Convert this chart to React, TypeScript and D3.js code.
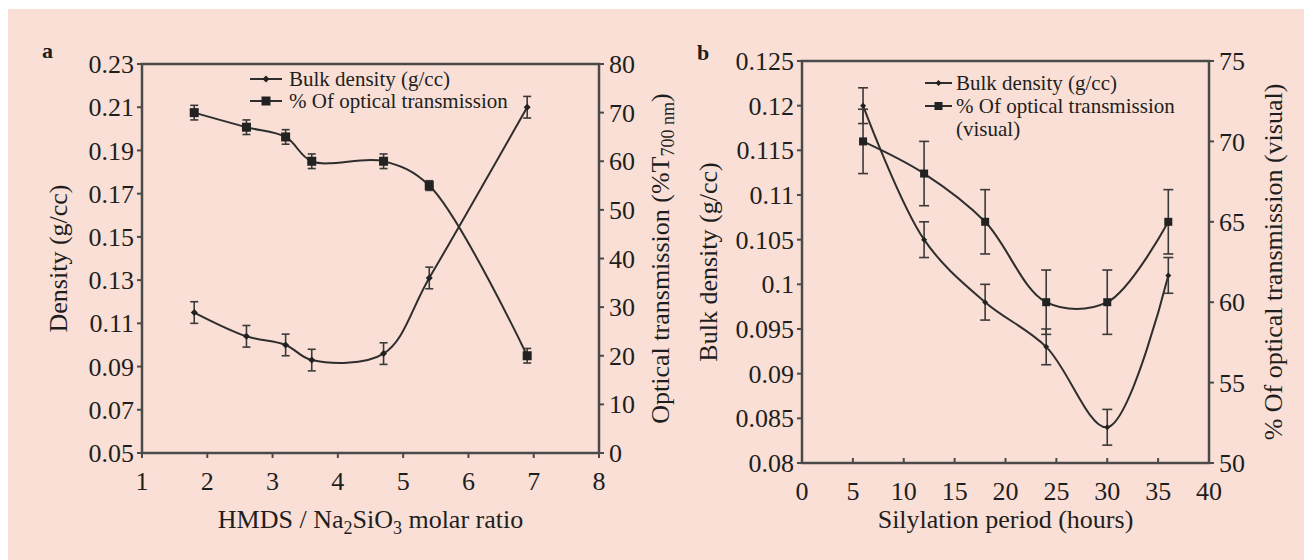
import { scaleLinear, line, curveCatmullRom } from "d3"

// Panel a: HMDS / Na2SiO3 molar ratio
const ratioA = [1.8, 2.6, 3.2, 3.6, 4.7, 5.4, 6.9]
const densityA = [0.115, 0.104, 0.1, 0.093, 0.096, 0.131, 0.21]
const densityErrA = [0.005, 0.005, 0.005, 0.005, 0.005, 0.005, 0.005]
const transA = [70, 67, 65, 60, 60, 55, 20]
const transErrA = [1.5, 1.5, 1.5, 1.5, 1.5, 1, 1.5]

// Panel b: silylation period
const periodB = [6, 12, 18, 24, 30, 36]
const densityB = [0.12, 0.105, 0.098, 0.093, 0.084, 0.101]
const densityErrB = [0.002, 0.002, 0.002, 0.002, 0.002, 0.002]
const transB = [70, 68, 65, 60, 60, 65]
const transErrB = [2, 2, 2, 2, 2, 2]

// tick labels
const xTicksA = [1, 2, 3, 4, 5, 6, 7, 8]
const leftTicksA = ["0.05", "0.07", "0.09", "0.11", "0.13", "0.15", "0.17", "0.19", "0.21", "0.23"]
const rightTicksA = [0, 10, 20, 30, 40, 50, 60, 70, 80]
const xTicksB = [0, 5, 10, 15, 20, 25, 30, 35, 40]
const leftTicksB = ["0.08", "0.085", "0.09", "0.095", "0.1", "0.105", "0.11", "0.115", "0.12", "0.125"]
const rightTicksB = [50, 55, 60, 65, 70, 75]

const FONT = "'Liberation Serif', 'Times New Roman', serif"
const INK = "#1e1e1e"
const AXIS = "#4a4a4a"
const LINE = "#2e2e2e"
const TICK_FS = 26

function Marker({ x, y, kind, size }) {
    if (kind === "square")
        return <rect x={x - size / 2} y={y - size / 2} width={size} height={size} fill="#222" />
    return <path d={`M${x},${y - size / 2}L${x + size / 2},${y}L${x},${y + size / 2}L${x - size / 2},${y}Z`} fill="#222" />
}

function Panel({ box, xDomain, yLDomain, yRDomain, xTicks, leftTicks, rightTicks, xs, series, bottomTicksIn, cap, titles, legend }) {
    const x = scaleLinear(xDomain, [box.left, box.right])
    const yL = scaleLinear(yLDomain, [box.bottom, box.top])
    const yR = scaleLinear(yRDomain, [box.bottom, box.top])

    return <g>
        {/* curves, error bars, markers */}
        {series.map((s, si) => {
            const y = s.axis === "left" ? yL : yR
            const path = line()
                .x((_, i) => x(xs[i]))
                .y(d => y(d))
                .curve(curveCatmullRom.alpha(0.5))(s.values)
            return <g key={si}>
                <path d={path} fill="none" stroke={LINE} strokeWidth={2} />
                {s.values.map((v, i) => {
                    const cx = x(xs[i])
                    const top = y(v + s.err[i])
                    const bot = y(v - s.err[i])
                    return <g key={i} stroke="#3a3a3a" strokeWidth={1.6}>
                        <line x1={cx} x2={cx} y1={top} y2={bot} />
                        <line x1={cx - cap} x2={cx + cap} y1={top} y2={top} />
                        <line x1={cx - cap} x2={cx + cap} y1={bot} y2={bot} />
                    </g>
                })}
                {s.values.map((v, i) =>
                    <Marker key={i} x={x(xs[i])} y={y(v)} kind={s.marker} size={s.size} />)}
            </g>
        })}

        {/* frame */}
        <rect x={box.left} y={box.top} width={box.right - box.left} height={box.bottom - box.top}
            fill="none" stroke={AXIS} strokeWidth={2.5} />

        {/* left axis */}
        {leftTicks.map(t => {
            const yy = yL(+t)
            return <g key={t}>
                <line x1={box.left - 5} x2={box.left} y1={yy} y2={yy} stroke={AXIS} strokeWidth={2} />
                <text x={box.left - 8} y={yy} dy="0.35em" textAnchor="end" fontSize={TICK_FS} fill={INK}>{t}</text>
            </g>
        })}
        {/* right axis */}
        {rightTicks.map(t => {
            const yy = yR(t)
            return <g key={t}>
                <line x1={box.right} x2={box.right + 5} y1={yy} y2={yy} stroke={AXIS} strokeWidth={2} />
                <text x={box.right + 10} y={yy} dy="0.35em" textAnchor="start" fontSize={TICK_FS} fill={INK}>{t}</text>
            </g>
        })}
        {/* bottom axis */}
        {xTicks.map(t => {
            const xx = x(t)
            return <g key={t}>
                <line x1={xx} x2={xx} y1={box.bottom} y2={bottomTicksIn ? box.bottom - 5 : box.bottom + 5} stroke={AXIS} strokeWidth={2} />
                <text x={xx} y={box.bottom + 37} textAnchor="middle" fontSize={TICK_FS} fill={INK}>{t}</text>
            </g>
        })}

        {titles}

        {/* legend */}
        {legend.rows.map((r, i) => {
            const ly = legend.y + i * legend.step
            return <g key={i}>
                {r.marker && <>
                    <line x1={legend.x} x2={legend.x + legend.len} y1={ly} y2={ly} stroke={LINE} strokeWidth={2} />
                    <Marker x={legend.x + legend.len / 2} y={ly} kind={r.marker} size={r.size} />
                </>}
                <text x={legend.x + legend.len + legend.gap} y={ly} dy="0.33em" fontSize={21} fill={INK}>{r.label}</text>
            </g>
        })}
    </g>
}

export default function App() {
    const boxA = { left: 142, right: 599, top: 64, bottom: 453 }
    const boxB = { left: 802, right: 1209, top: 61, bottom: 463 }

    const titlesA = <g fontSize={26} fill={INK}>
        <text x={42} y={58} fontSize={22} fontWeight="bold">a</text>
        <text transform={`translate(67,${(boxA.top + boxA.bottom) / 2}) rotate(-90)`} textAnchor="middle">Density (g/cc)</text>
        <text transform={`translate(669,${(boxA.top + boxA.bottom) / 2}) rotate(-90)`} textAnchor="middle">
            Optical transmission (%T<tspan dy={5} fontSize={18}>700 nm</tspan><tspan dy={-5}>)</tspan>
        </text>
        <text x={(boxA.left + boxA.right) / 2} y={528} textAnchor="middle">
            HMDS / Na<tspan dy={6} fontSize={18}>2</tspan><tspan dy={-6}>SiO</tspan><tspan dy={6} fontSize={18}>3</tspan><tspan dy={-6}> molar ratio</tspan>
        </text>
    </g>

    const titlesB = <g fontSize={26} fill={INK}>
        <text x={697} y={60} fontSize={22} fontWeight="bold">b</text>
        <text transform={`translate(717,${(boxB.top + boxB.bottom) / 2}) rotate(-90)`} textAnchor="middle">Bulk density (g/cc)</text>
        <text transform={`translate(1282,${(boxB.top + boxB.bottom) / 2}) rotate(-90)`} textAnchor="middle">% Of optical transmission (visual)</text>
        <text x={(boxB.left + boxB.right) / 2} y={528} textAnchor="middle">Silylation period (hours)</text>
    </g>

    return <svg width={1304} height={552} style={{ display: "block" }} fontFamily={FONT}>
        <g transform="translate(-8,-8)">
            <rect x={8} y={9} width={1304} height={551} fill="#f9dfd5" />
            <Panel box={boxA} xDomain={[1, 8]} yLDomain={[0.05, 0.23]} yRDomain={[0, 80]}
                xTicks={xTicksA} leftTicks={leftTicksA} rightTicks={rightTicksA} xs={ratioA}
                bottomTicksIn={false} cap={4}
                series={[
                    { axis: "left", values: densityA, err: densityErrA, marker: "diamond", size: 7 },
                    { axis: "right", values: transA, err: transErrA, marker: "square", size: 9 },
                ]}
                titles={titlesA}
                legend={{
                    x: 250, y: 79, step: 22, len: 32, gap: 7, rows: [
                        { marker: "diamond", size: 7, label: "Bulk density (g/cc)" },
                        { marker: "square", size: 9, label: "% Of optical transmission" },
                    ]
                }}
            />
            <Panel box={boxB} xDomain={[0, 40]} yLDomain={[0.08, 0.125]} yRDomain={[50, 75]}
                xTicks={xTicksB} leftTicks={leftTicksB} rightTicks={rightTicksB} xs={periodB}
                bottomTicksIn={true} cap={5}
                series={[
                    { axis: "left", values: densityB, err: densityErrB, marker: "diamond", size: 6 },
                    { axis: "right", values: transB, err: transErrB, marker: "square", size: 8 },
                ]}
                titles={titlesB}
                legend={{
                    x: 925, y: 83, step: 23, len: 27, gap: 4, rows: [
                        { marker: "diamond", size: 6, label: "Bulk density (g/cc)" },
                        { marker: "square", size: 8, label: "% Of optical transmission" },
                        { marker: null, size: 0, label: "(visual)" },
                    ]
                }}
            />
        </g>
    </svg>
}
